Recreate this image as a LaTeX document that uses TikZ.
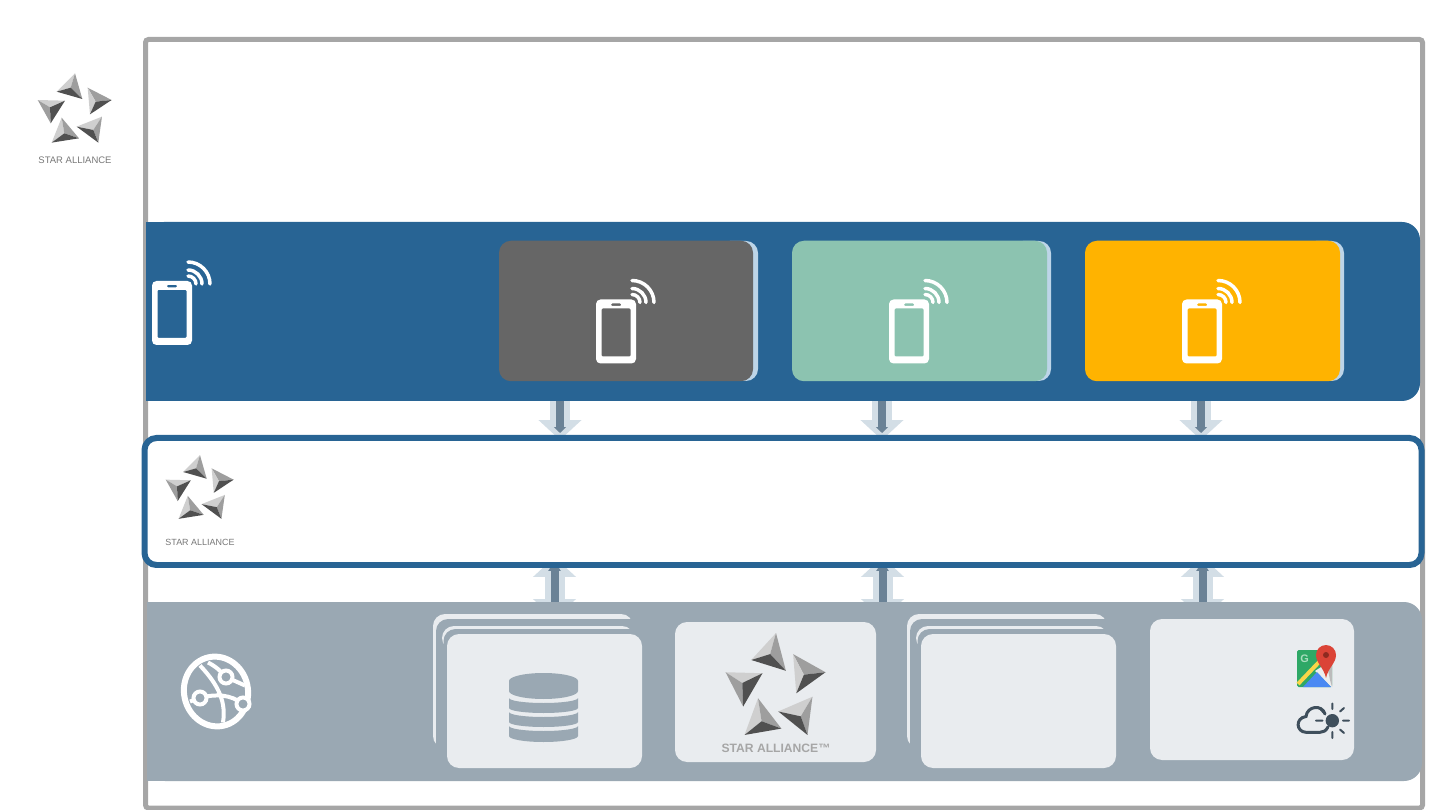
\documentclass[tikz,border=0pt]{standalone}
\usepackage{fontspec}
\setmainfont{Liberation Sans}
\usetikzlibrary{positioning, arrows.meta, backgrounds}

\newcommand{\px}{0.02cm}
\definecolor{framegray}{HTML}{A6A6A6}
\definecolor{bandblue}{HTML}{286494}
\definecolor{bandgray}{HTML}{9AA8B3}
\definecolor{sheetpale}{HTML}{E9ECEF}
\definecolor{shadowblue}{HTML}{BDD5E8}
\definecolor{cardgray}{HTML}{666666}
\definecolor{cardgreen}{HTML}{8CC3B0}
\definecolor{cardyellow}{HTML}{FFB300}
\definecolor{softarrow}{HTML}{D3DEE6}
\definecolor{hardarrow}{HTML}{6A8296}
\definecolor{logotext}{HTML}{777777}
\definecolor{iconslate}{HTML}{3F4F5C}
\definecolor{facetlight}{HTML}{CFCFCF}
\definecolor{facetmid}{HTML}{9E9E9E}
\definecolor{facetdark}{HTML}{505050}
\definecolor{mapgreen}{HTML}{2EA866}
\definecolor{mapyellow}{HTML}{F9D648}
\definecolor{mapblue}{HTML}{4A89F3}
\definecolor{mapred}{HTML}{DB4437}
\definecolor{mapdark}{HTML}{8E2A20}
\definecolor{mapwhite}{HTML}{EDEDED}
\definecolor{mapshade}{HTML}{BBBBBB}
\definecolor{mapletter}{HTML}{A8DDBD}

\tikzset{
    box/.style={inner sep=0, outer sep=0, rounded corners=0.24cm},
    bandbox/.style={box, rounded corners=0.36cm, minimum height=179*\px},
    cardbox/.style={box, minimum height=140.5*\px},
    shadowbox/.style={box, fill=shadowblue, minimum width=40*\px, minimum height=140*\px},
    softdown/.style={draw=softarrow, line width=0.4cm, -{Triangle[width=0.84cm, length=0.4cm, fill=softarrow]}, shorten >=-0.04cm},
    harddown/.style={draw=hardarrow, line width=0.16cm, -{Triangle[width=0.24cm, length=0.12cm, fill=hardarrow]}, shorten >=0.1cm},
    softboth/.style={draw=softarrow, line width=0.4cm, {Triangle[width=0.84cm, length=0.4cm, fill=softarrow]}-{Triangle[width=0.84cm, length=0.4cm, fill=softarrow]}, shorten <=-0.16cm, shorten >=-0.34cm},
    hardboth/.style={draw=hardarrow, line width=0.16cm, {Triangle[width=0.24cm, length=0.2cm, fill=hardarrow]}-{Triangle[width=0.24cm, length=0.12cm, fill=hardarrow]}, shorten <=-0.08cm, shorten >=-0.16cm},
    alliance/.style={inner sep=0, outer sep=0, text=logotext},
    phoneicon/.pic={
        \fill[white, even odd rule]
            {[rounded corners=0.09cm] (-20,-32) rectangle (20,32)}
            {[rounded corners=0.02cm] (-14.5,-23) rectangle (14.5,25)}
            {[rounded corners=0.02cm] (-5,-28) rectangle (5,-25.5)};
        \draw[white, line width=0.07cm, line cap=round]
            (16,-51) arc[start angle=270, end angle=360, radius=22]
            (16,-43) arc[start angle=270, end angle=360, radius=14]
            (16,-37) arc[start angle=270, end angle=360, radius=8];
    },
    starlogo/.pic={
        % top
        \fill[facetlight] (0,-104) -- (-55,-49) -- (-13,-61) -- cycle;
        \fill[facetmid] (0,-104) -- (22,-27) -- (-13,-61) -- cycle;
        \fill[facetdark] (-55,-49) -- (22,-27) -- (-13,-61) -- cycle;
        % right
        \fill[facetmid] (38,-61) -- (110,-24) -- (62,-19) -- cycle;
        \fill[facetlight] (38,-61) -- (45,19) -- (62,-19) -- cycle;
        \fill[facetdark] (110,-24) -- (45,19) -- (62,-19) -- cycle;
        % left
        \fill[facetlight] (-112,-24) -- (-30,-22) -- (-75,-2) -- cycle;
        \fill[facetmid] (-112,-24) -- (-73,46) -- (-75,-2) -- cycle;
        \fill[facetdark] (-30,-22) -- (-73,46) -- (-75,-2) -- cycle;
        % lower left
        \fill[facetlight] (-40,29) -- (-70,104) -- (-32,76) -- cycle;
        \fill[facetmid] (-40,29) -- (12,91) -- (-32,76) -- cycle;
        \fill[facetdark] (-70,104) -- (12,91) -- (-32,76) -- cycle;
        % lower right
        \fill[facetlight] (81,26) -- (5,56) -- (55,66) -- cycle;
        \fill[facetmid] (81,26) -- (70,104) -- (55,66) -- cycle;
        \fill[facetdark] (5,56) -- (70,104) -- (55,66) -- cycle;
    },
    globeicon/.pic={
        \draw[white, line width=0.12cm, rotate=12] (0,0) ellipse[x radius=32, y radius=35];
        \draw[white, line width=0.08cm]
            (-16,-26) .. controls (4,-5) and (10,12) .. (7,31)
            (-26,10) -- (-16,6.5)
            (-16,6.5) .. controls (0,2) and (15,3) .. (27,12.5)
            (-8,-29) .. controls (0,-25) and (5,-20) .. (10,-14.5)
            (10,-14.5) -- (29,-6);
        \draw[white, line width=0.08cm, fill=bandgray]
            (10,-14.5) circle[radius=6.5]
            (-16,6.5) circle[radius=6.5]
            (27,12.5) circle[radius=6.5];
    },
    dbicon/.pic={
        \fill[bandgray] (-34.5,-26) arc[start angle=180, end angle=360, x radius=34.5, y radius=8]
            -- (34.5,-16) arc[start angle=0, end angle=180, x radius=34.5, y radius=8] -- cycle;
        \fill[bandgray] (-34.5,-9) arc[start angle=180, end angle=0, x radius=34.5, y radius=5]
            -- (34.5,1) arc[start angle=0, end angle=180, x radius=34.5, y radius=5] -- cycle;
        \fill[bandgray] (-34.5,5) arc[start angle=180, end angle=0, x radius=34.5, y radius=5]
            -- (34.5,15) arc[start angle=0, end angle=180, x radius=34.5, y radius=5] -- cycle;
        \fill[bandgray] (-34.5,19) arc[start angle=180, end angle=0, x radius=34.5, y radius=5]
            -- (34.5,29) arc[start angle=0, end angle=180, x radius=34.5, y radius=6] -- cycle;
    },
}

\begin{document}
\begin{tikzpicture}[x=0.02cm, y=-0.02cm]
    \useasboundingbox (0,0) rectangle (1440,810);
    \draw[framegray, line width=0.1cm, rounded corners=0.06cm] (145.5,39.5) rectangle (1422.5,808);

    % top band
    \node[bandbox, fill=bandblue, minimum width=1274*\px] (phoneband) at (783,311.5) {};
    \fill[bandblue] (phoneband.north west) rectangle ++(40,179);
    \pic at (172,313) {phoneicon};

    \node[shadowbox] (shadowA) at (738,311) {};
    \node[shadowbox] (shadowB) at (1031,311) {};
    \node[shadowbox] (shadowC) at (1324,311) {};
    \node[cardbox, fill=cardgray, minimum width=254*\px] (cardA) at (626,311) {};
    \node[cardbox, fill=cardgreen, minimum width=255*\px] (cardB) at (919.5,311) {};
    \node[cardbox, fill=cardyellow, minimum width=255*\px] (cardC) at (1212.5,311) {};
    \pic at (616,331.5) {phoneicon};
    \pic at (909,331.5) {phoneicon};
    \pic at (1202,331.5) {phoneicon};

    % logo on the left
    \pic[scale=0.333] at (75,108) {starlogo};
    \node[alliance, font=\fontsize{5.4}{6}\selectfont] (allianceA) at (75,160.5) {STAR ALLIANCE};

    % middle box
    \node[box, draw=bandblue, line width=0.12cm, fill=white, minimum width=1277*\px, minimum height=127*\px] (hubbox) at (783,501.5) {};
    \pic[scale=0.306] at (200,487) {starlogo};
    \node[alliance, font=\fontsize{5.1}{6}\selectfont] (allianceB) at (200,542) {STAR ALLIANCE};

    % bottom band
    \node[bandbox, fill=bandgray, minimum width=1275*\px] (sourceband) at (784.5,691.5) {};
    \fill[bandgray] (sourceband.north west) rectangle ++(40,179);
    \pic at (216,691.5) {globeicon};

    \node[box, fill=sheetpale, minimum width=200*\px, minimum height=134*\px] (backA) at (533,681) {};
    \node[box, fill=bandgray, minimum width=209*\px, minimum height=156*\px] (maskA) at (540.5,697) {};
    \node[box, fill=sheetpale, minimum width=192*\px, minimum height=24*\px] (midA) at (538,638) {};
    \node[box, fill=bandgray, minimum width=201.5*\px, minimum height=146*\px] (edgeA) at (544.25,702) {};
    \node[box, fill=sheetpale, minimum width=195*\px, minimum height=134*\px] (frontA) at (544.5,701) {};
    \pic at (543.5,707) {dbicon};

    \node[box, fill=sheetpale, minimum width=201*\px, minimum height=140*\px] (logocard) at (775.5,692) {};
    \pic[xscale=0.45, yscale=0.49] at (776,684) {starlogo};
    \node[alliance, font=\bfseries\fontsize{6.9}{8}\selectfont, text=black!35] (allianceC) at (776,748) {STAR ALLIANCE™};

    \node[box, fill=sheetpale, minimum width=200*\px, minimum height=134*\px] (backB) at (1007,681) {};
    \node[box, fill=bandgray, minimum width=209*\px, minimum height=156*\px] (maskB) at (1014.5,697) {};
    \node[box, fill=sheetpale, minimum width=192*\px, minimum height=24*\px] (midB) at (1012,638) {};
    \node[box, fill=bandgray, minimum width=201.5*\px, minimum height=146*\px] (edgeB) at (1018.25,702) {};
    \node[box, fill=sheetpale, minimum width=195*\px, minimum height=134*\px] (frontB) at (1018.5,701) {};

    \node[box, fill=sheetpale, minimum width=204*\px, minimum height=141*\px] (extcard) at (1252,689.5) {};

    % map icon
    \fill[mapgreen, rounded corners=0.03cm] (1297,650) rectangle (1332,687);
    \fill[mapwhite] (1315,671) -- (1332,660) -- (1332,687) -- (1331,687) -- cycle;
    \fill[mapshade] (1326,660) -- (1332,660) -- (1332,687) -- (1330,680) -- cycle;
    \fill[mapblue] (1303,687) -- (1317,672) -- (1331,687) -- cycle;
    \draw[mapyellow, line width=0.08cm] (1298,684) -- (1320,661);
    \fill[mapred] (1326,678) .. controls (1324,668) and (1316,663) .. (1316,655)
        arc[start angle=180, end angle=360, radius=10]
        .. controls (1336,663) and (1328,668) .. (1326,678) -- cycle;
    \fill[mapdark] (1326,655) circle[radius=3];
    \node[inner sep=0, text=mapletter, font=\bfseries\fontsize{6.2}{7}\selectfont] (mapG) at (1304.5,659) {G};

    % weather icon
    \draw[iconslate, line width=0.06cm, line cap=round]
        (1328,727) .. controls (1326,731) and (1323,732.3) .. (1320,732.3)
        -- (1306,732.3)
        .. controls (1296,732) and (1295,718) .. (1306,716.5)
        .. controls (1307,706) and (1322,704) .. (1325,714);
    \fill[iconslate] (1332.3,720.7) circle[radius=6.7];
    \draw[iconslate, line width=0.04cm, line cap=round]
        (1332.3,703.5) -- (1332.3,709)
        (1340,711.5) -- (1344,708)
        (1343,720.7) -- (1349,720.7)
        (1340,729.5) -- (1344,733)
        (1332.3,732) -- (1332.3,738)
        (1316,720.7) -- (1322.5,720.7)
        (1320,708.5) -- (1323.5,712.5);

    % connectors
    \coordinate (linkA) at (560,420);
    \coordinate (linkB) at (882,420);
    \coordinate (linkC) at (1201,420);
    \coordinate (feedA) at (554.5,585);
    \coordinate (feedB) at (882.5,585);
    \coordinate (feedC) at (1202.5,585);
    \begin{scope}[on background layer]
        \draw
            (linkA |- phoneband.south) edge[softdown] (linkA |- hubbox.north)
            (linkB |- phoneband.south) edge[softdown] (linkB |- hubbox.north)
            (linkC |- phoneband.south) edge[softdown] (linkC |- hubbox.north)
            (linkA |- phoneband.south) edge[harddown] (linkA |- hubbox.north)
            (linkB |- phoneband.south) edge[harddown] (linkB |- hubbox.north)
            (linkC |- phoneband.south) edge[harddown] (linkC |- hubbox.north)
            (feedA |- hubbox.south) edge[softboth] (feedA |- sourceband.north)
            (feedB |- hubbox.south) edge[softboth] (feedB |- sourceband.north)
            (feedC |- hubbox.south) edge[softboth] (feedC |- sourceband.north)
            (feedA |- hubbox.south) edge[hardboth] (feedA |- sourceband.north)
            (feedB |- hubbox.south) edge[hardboth] (feedB |- sourceband.north)
            (feedC |- hubbox.south) edge[hardboth] (feedC |- sourceband.north)
            ;
    \end{scope}
\end{tikzpicture}
\end{document}
